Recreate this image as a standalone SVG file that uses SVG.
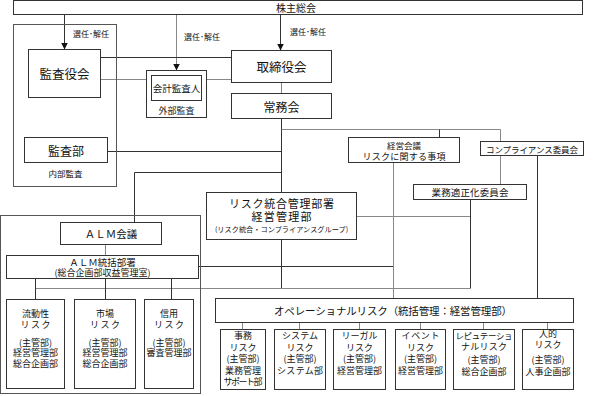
<svg xmlns="http://www.w3.org/2000/svg" width="593" height="396" viewBox="0 0 593 396">
<style>
.b{fill:#fff;stroke:#333;stroke-width:1}
.f{fill:none;stroke:#555;stroke-width:1}
.l{stroke:#333;stroke-width:1;fill:none}
.g{stroke:#888;stroke-width:1;fill:none}
text{font-family:"Noto Sans CJK JP","Noto Sans CJK SC",sans-serif;fill:#111;text-anchor:middle;dominant-baseline:central}
.s8{font-size:8px}.s9{font-size:9px}.s95{font-size:9px}.s10{font-size:10px}.s12{font-size:12px}
</style>
<defs>
<marker id="ah" markerUnits="userSpaceOnUse" markerWidth="8" markerHeight="8" refX="7" refY="4" orient="auto" viewBox="0 0 8 8">
<path d="M0,0.5 L7,4 L0,7.5 z" fill="#111"/>
</marker>
</defs>
<rect x="0" y="0" width="593" height="396" fill="#fff"/>
<g id="connectors">
<path class="l" d="M64.5,15 V49.5" marker-end="url(#ah)"/>
<path class="g" d="M176.5,15 V70.5" marker-end="url(#ah)"/>
<path class="l" d="M280.5,15 V50.5" marker-end="url(#ah)"/>
<text class="s8" x="91" y="33">選任･解任</text>
<text class="s8" x="202" y="36">選任･解任</text>
<text class="s8" x="308" y="31">選任･解任</text>
<path class="l" d="M100.5,57.5 H231.5"/>
<path class="g" d="M100.5,79.5 H231.5"/>
<path class="g" d="M281.5,82.5 V93.5"/>
<path class="l" d="M281.5,118.5 V192.5 M281.5,239.5 V288.5"/>
<path class="g" d="M281.5,129.5 H500.5 V184.5"/>
<path class="l" d="M439.5,129.5 V137.5"/>
<path class="l" d="M107.5,151.5 H281.5"/>
<path class="l" d="M281.5,172.5 H134.5 V222.5"/>
<path class="g" d="M105.5,244.5 V255.5"/>
<path class="l" d="M198.5,266.5 H393.5"/>
<path class="g" d="M356.5,216.5 H470.5"/>
<path class="l" d="M470.5,199.5 V288.5"/>
<path class="g" d="M35.5,288.5 H470.5"/>
<path class="l" d="M35.5,278.5 V299.5 M105.5,278.5 V299.5 M171.5,278.5 V299.5"/>
<path class="g" d="M393.5,162.5 V298.5"/>
<path class="l" d="M537.5,155.5 V298.5"/>
<path class="g" d="M242.5,322.5 V329.5 M299.5,322.5 V329.5 M359.5,322.5 V329.5 M420.5,322.5 V329.5 M483.5,322.5 V329.5 M547.5,322.5 V329.5"/>
</g>
<g id="kabunushi">
<rect class="b" x="13.5" y="0.5" width="569" height="14"/>
<text class="s10" x="296" y="7.5">株主総会</text>
</g>
<g id="kansa-frame">
<rect class="f" x="13.5" y="24.5" width="103" height="162"/>
</g>
<g id="kansayakukai">
<rect class="b" x="28.5" y="49.5" width="72" height="48"/>
<text class="s12" x="64.5" y="73.5" style="font-size:12.5px">監査役会</text>
</g>
<g id="kaikei">
<rect class="b" x="146.5" y="70.5" width="60" height="47"/>
<rect class="b" x="151.5" y="75.5" width="50" height="25"/>
<text x="176.5" y="88" style="font-size:9.5px">会計監査人</text>
<text class="s9" x="176.5" y="110">外部監査</text>
</g>
<g id="torishimariyakukai">
<rect class="b" x="231.5" y="50.5" width="100" height="32"/>
<text class="s12" x="281.5" y="66.5" style="font-size:12.5px">取締役会</text>
</g>
<g id="jomukai">
<rect class="b" x="231.5" y="93.5" width="100" height="25"/>
<text class="s12" x="281.5" y="106">常務会</text>
</g>
<g id="kansabu">
<rect class="b" x="24.5" y="137.5" width="83" height="25"/>
<text class="s12" x="66" y="150">監査部</text>
<text class="s8" x="65.5" y="172.5" style="font-size:8.5px">内部監査</text>
</g>
<g id="keiei-kaigi">
<rect class="b" x="348.5" y="137.5" width="111" height="25"/>
<text class="s9" x="404" y="145" style="font-size:8.5px">経営会議</text>
<text class="s9" x="404" y="156" textLength="83">リスクに関する事項</text>
</g>
<g id="compliance">
<rect class="b" x="480.5" y="141.5" width="103" height="14"/>
<text class="s8" x="532" y="148.5" textLength="92" style="font-size:8.5px">コンプライアンス委員会</text>
</g>
<g id="gyomu-tekisei">
<rect class="b" x="413.5" y="184.5" width="113" height="15"/>
<text x="470" y="192" textLength="77" style="font-size:9.5px">業務適正化委員会</text>
</g>
<g id="risk-togo">
<rect class="b" x="206.5" y="192.5" width="150" height="47"/>
<text x="281.5" y="202.5" textLength="105" style="font-size:11px">リスク統合管理部署</text>
<text x="281.5" y="215.5" textLength="60" style="font-size:11px">経営管理部</text>
<text x="281.5" y="229" style="font-size:7.2px">(リスク統合・コンプライアンスグループ)</text>
</g>
<g id="alm-frame">
<rect class="f" x="0.5" y="215.5" width="200" height="178"/>
</g>
<g id="alm-kaigi">
<rect class="b" x="60.5" y="222.5" width="101" height="22"/>
<text x="111" y="233.5" style="font-size:10.5px">ＡＬＭ会議</text>
</g>
<g id="alm-tokatsu">
<rect class="b" x="6.5" y="255.5" width="192" height="23"/>
<text x="102.5" y="261.5" style="font-size:9.5px">ＡＬＭ統括部署</text>
<text class="s9" x="102.5" y="272">(総合企画部収益管理室)</text>
</g>
<g id="ryudosei">
<rect class="b" x="6.5" y="299.5" width="58" height="89"/>
<text class="s95" x="35.5" y="313">流動性</text>
<text class="s95" x="35.5" y="324" textLength="30">リスク</text>
<text class="s95" x="35.5" y="342">(主管部)</text>
<text class="s95" x="35.5" y="352.5">経営管理部</text>
<text class="s95" x="35.5" y="363">総合企画部</text>
</g>
<g id="shijo">
<rect class="b" x="74.5" y="299.5" width="61" height="89"/>
<text class="s95" x="105" y="313">市場</text>
<text class="s95" x="105" y="324" textLength="30">リスク</text>
<text class="s95" x="105" y="342">(主管部)</text>
<text class="s95" x="105" y="352.5">経営管理部</text>
<text class="s95" x="105" y="363">総合企画部</text>
</g>
<g id="shinyo">
<rect class="b" x="144.5" y="299.5" width="49" height="89"/>
<text class="s95" x="169" y="313">信用</text>
<text class="s95" x="169" y="324" textLength="30">リスク</text>
<text class="s95" x="169" y="342">(主管部)</text>
<text class="s95" x="169" y="352.5">審査管理部</text>
</g>
<g id="operational">
<rect class="b" x="215.5" y="298.5" width="358" height="24"/>
<text class="s10" x="393" y="310.5" textLength="238" style="font-size:10.5px">オペレーショナルリスク（統括管理：経営管理部）</text>
</g>
<g id="jimu">
<rect class="b" x="220.5" y="329.5" width="45" height="60"/>
<text class="s9" x="243" y="335">事務</text>
<text class="s9" x="243" y="347" textLength="27">リスク</text>
<text class="s9" x="243" y="358.5">(主管部)</text>
<text class="s9" x="243" y="370">業務管理</text>
<text class="s9" x="243" y="381" textLength="39">サポート部</text>
</g>
<g id="system">
<rect class="b" x="274.5" y="329.5" width="51" height="60"/>
<text class="s9" x="300" y="335" textLength="36">システム</text>
<text class="s9" x="300" y="347" textLength="27">リスク</text>
<text class="s9" x="300" y="358.5">(主管部)</text>
<text class="s9" x="300" y="370" textLength="46">システム部</text>
</g>
<g id="legal">
<rect class="b" x="333.5" y="329.5" width="52" height="60"/>
<text class="s9" x="359.5" y="335" textLength="36">リーガル</text>
<text class="s9" x="359.5" y="347" textLength="27">リスク</text>
<text class="s9" x="359.5" y="358.5">(主管部)</text>
<text class="s9" x="359.5" y="370">経営管理部</text>
</g>
<g id="event">
<rect class="b" x="395.5" y="329.5" width="50" height="60"/>
<text class="s9" x="420.5" y="335" textLength="38">イベント</text>
<text class="s9" x="420.5" y="347" textLength="27">リスク</text>
<text class="s9" x="420.5" y="358.5">(主管部)</text>
<text class="s9" x="420.5" y="370">経営管理部</text>
</g>
<g id="reputation">
<rect class="b" x="453.5" y="329.5" width="61" height="60"/>
<text class="s9" x="484" y="334.5" textLength="57" style="font-size:8.5px">レピュテーショ</text>
<text class="s9" x="484" y="346" textLength="46">ナルリスク</text>
<text class="s9" x="484" y="359.5">(主管部)</text>
<text class="s9" x="484" y="371">総合企画部</text>
</g>
<g id="jinteki">
<rect class="b" x="522.5" y="329.5" width="51" height="60"/>
<text class="s9" x="548" y="333.5">人的</text>
<text class="s9" x="548" y="344.5" textLength="27">リスク</text>
<text class="s9" x="548" y="359.5">(主管部)</text>
<text class="s9" x="548" y="371">人事企画部</text>
</g>
</svg>
